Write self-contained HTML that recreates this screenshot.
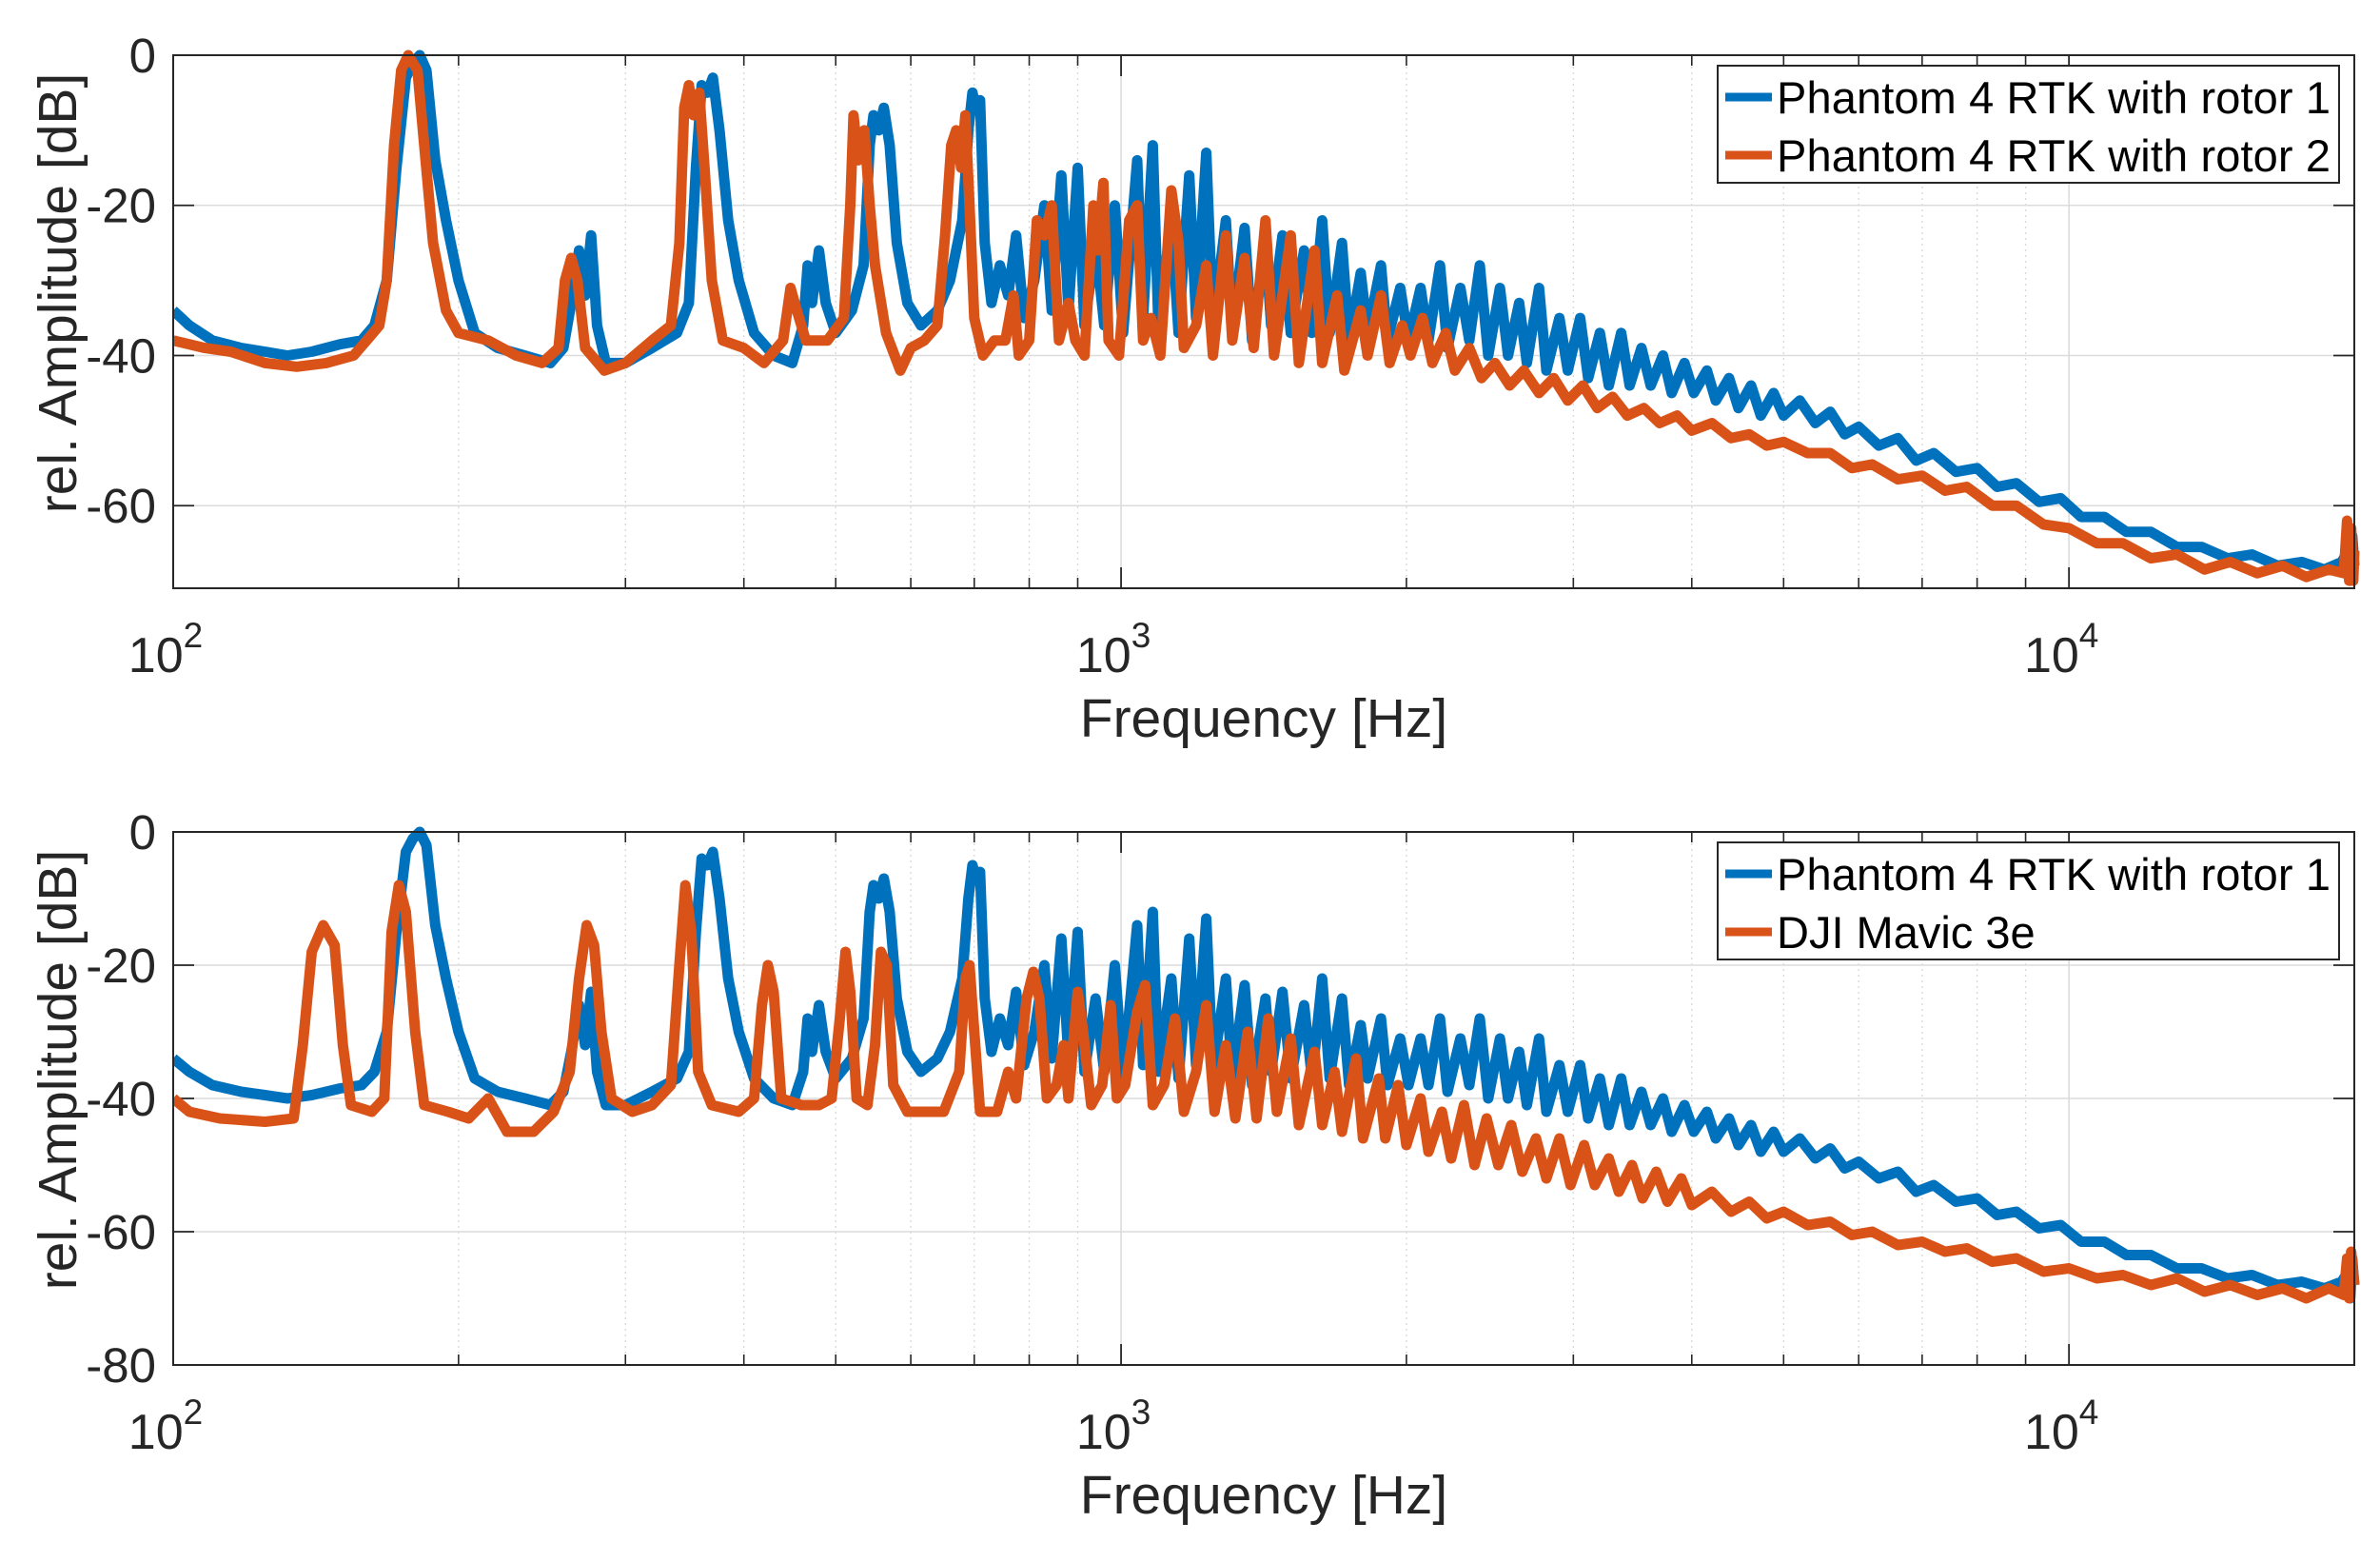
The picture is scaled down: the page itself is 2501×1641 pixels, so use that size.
<!DOCTYPE html>
<html><head><meta charset="utf-8">
<style>
html,body{margin:0;padding:0;background:#fff;}
svg{display:block;font-family:"Liberation Sans",Arial,sans-serif;}
</style></head>
<body>
<svg id="fig" width="2501" height="1641" viewBox="0 0 2501 1641" xmlns="http://www.w3.org/2000/svg"></svg>
<script>
// ---- data ----
const xTickLabels = ["2","3","4"];          // exponents for 10^2, 10^3, 10^4
const xTickValues = [100, 1000, 10000];
const yTicksTop = [0, -20, -40, -60];
const yTicksBottom = [0, -20, -40, -60, -80];

const legendTop = ["Phantom 4 RTK with rotor 1", "Phantom 4 RTK with rotor 2"];
const legendBottom = ["Phantom 4 RTK with rotor 1", "DJI Mavic 3e"];

const freqR1 = [100,104,110,118,125,132,140,150,158,163,168,172,176,179,182,185,189,194,200,208,220,235,250,258,263,268,272,276,280,286,300,320,340,350,356,361,366,371,377,385,395,410,430,450,462,467,472,480,488,500,520,535,543,548,555,562,570,580,595,615,640,660,680,690,697,703,710,718,730,745,760,775,790,810,830,845,865,880,900,915,940,960,985,1005,1040,1055,1080,1095,1130,1150,1180,1200,1230,1250,1290,1310,1350,1375,1420,1440,1480,1510,1560,1590,1630,1660,1710,1740,1790,1820,1880,1910,1970,2010,2070,2110,2170,2210,2280,2330,2390,2440,2510,2560,2630,2680,2760,2810,2900,2960,3050,3110,3200,3270,3370,3440,3540,3620,3730,3810,3930,4020,4150,4240,4380,4480,4620,4730,4880,5000,5200,5400,5600,5800,6000,6300,6600,6900,7200,7600,8000,8400,8800,9300,9800,10300,10900,11500,12200,13000,13800,14700,15600,16600,17600,18600,19400,19700,19800,19900,20000];
const ampR1 = [-34,-36,-38,-39,-39.5,-40,-39.5,-38.5,-38,-36,-30,-15,-3,-1,0,-2,-14,-22,-30,-37,-39,-40,-41,-39,-33,-26,-32,-24,-36,-41,-41,-39,-37,-33,-15,-4,-5,-3,-10,-22,-30,-37,-40,-41,-36,-28,-33,-26,-33,-37,-34,-28,-12,-8,-10,-7,-12,-25,-33,-36,-34,-30,-22,-10,-5,-7,-6,-25,-33,-28,-32,-24,-35,-30,-20,-34,-16,-34,-15,-36,-25,-36,-20,-37,-14,-35,-12,-36,-22,-37,-16,-35,-13,-36,-22,-37,-23,-38,-25,-36,-24,-37,-26,-37,-22,-37,-25,-38,-29,-37,-28,-38,-31,-38,-31,-38,-28,-39,-31,-38,-28,-40,-31,-40,-33,-41,-31,-42,-35,-42,-35,-43,-37,-44,-37,-44,-39,-44,-40,-45,-41,-45,-42,-46,-43,-47,-44,-48,-45,-48,-46,-49,-47.5,-50.5,-49.5,-52,-51,-54,-53,-55.5,-55,-57.5,-57,-59.5,-59,-61.5,-61.5,-63.5,-63.5,-65.5,-65.5,-67,-66.5,-68,-67.5,-68.5,-67.5,-66,-70,-64,-68];

const freqR2 = [100,108,115,125,135,145,155,160,165,168,171,174,177,181,184,188,194,200,215,230,245,255,259,263,267,272,285,300,320,335,342,346,350,354,359,364,370,380,400,420,440,448,455,465,490,510,518,522,528,536,543,550,565,585,600,620,640,652,662,670,678,685,692,700,715,735,755,770,780,800,815,830,845,860,880,895,915,935,945,958,970,995,1020,1040,1055,1075,1100,1130,1150,1165,1200,1230,1250,1290,1310,1350,1380,1420,1450,1510,1540,1600,1630,1690,1720,1790,1820,1880,1920,1980,2020,2080,2130,2200,2250,2330,2400,2480,2570,2660,2760,2860,2960,3070,3180,3300,3420,3560,3700,3860,4000,4200,4400,4600,4800,5000,5300,5600,5900,6200,6600,7000,7400,7800,8300,8800,9400,10000,10700,11400,12200,13000,13900,14800,15800,16800,17800,18800,19500,19650,19750,19850,19950,20000];
const ampR2 = [-38,-39,-39.5,-41,-41.5,-41,-40,-38,-36,-30,-12,-2,0,-2,-12,-25,-34,-37,-38,-40,-41,-39,-30,-27,-30,-39,-42,-41,-38,-36,-25,-7,-4,-8,-5,-16,-30,-38,-39,-41,-38,-31,-34,-38,-38,-35,-20,-8,-14,-10,-20,-28,-37,-42,-39,-38,-36,-24,-12,-10,-15,-8,-20,-35,-40,-38,-38,-32,-40,-38,-22,-24,-20,-38,-33,-38,-40,-20,-26,-17,-38,-40,-22,-20,-38,-35,-40,-18,-25,-39,-36,-28,-40,-24,-38,-27,-39,-22,-40,-24,-41,-26,-41,-32,-42,-34,-40,-32,-41,-36,-40,-35,-41,-37,-42,-39,-43,-41,-44,-42,-45,-43,-46,-44,-47,-45.5,-48,-47,-49,-48,-50,-49,-51,-50.5,-52,-51.5,-53,-53,-55,-54.5,-56.5,-56,-58,-57.5,-60,-60,-62.5,-63,-65,-65,-67,-66.5,-68.5,-67.5,-69,-68,-69.5,-68.5,-69,-62,-70,-63,-70,-66];

const freqM3 = [100,104,112,125,134,137,140,144,148,151,154,162,167,170,173,176,180,184,195,205,215,225,240,252,262,268,273,278,283,290,305,320,335,342,347,352,358,370,395,410,418,424,430,438,460,480,495,505,512,518,526,540,550,558,566,575,595,620,650,675,685,692,700,710,740,760,775,795,808,820,835,855,870,880,900,912,930,955,975,990,1010,1040,1060,1080,1110,1140,1165,1200,1230,1255,1290,1320,1360,1390,1430,1460,1510,1540,1600,1630,1680,1710,1770,1800,1870,1900,1960,2000,2070,2110,2180,2230,2300,2360,2430,2500,2580,2650,2740,2810,2900,2980,3080,3160,3270,3350,3460,3550,3670,3770,3900,4000,4200,4400,4600,4800,5000,5300,5600,5900,6200,6600,7000,7400,7800,8300,8800,9400,10000,10700,11400,12200,13000,13900,14800,15800,16800,17800,18800,19500,19650,19750,19850,20000];
const ampM3 = [-40,-42,-43,-43.5,-43,-32,-18,-14,-17,-32,-41,-42,-40,-15,-8,-12,-30,-41,-42,-43,-40,-45,-45,-42,-36,-22,-14,-17,-30,-40,-42,-41,-38,-20,-8,-15,-36,-41,-42,-40,-26,-20,-24,-40,-41,-41,-40,-28,-18,-24,-40,-41,-32,-18,-20,-38,-42,-42,-42,-36,-22,-20,-30,-42,-42,-36,-40,-25,-21,-25,-40,-38,-32,-40,-24,-30,-41,-38,-26,-40,-38,-27,-23,-41,-38,-28,-42,-36,-26,-42,-32,-43,-30,-43,-28,-42,-31,-44,-33,-44,-36,-45,-34,-46,-37,-46,-38,-47,-40,-48,-42,-49,-41,-50,-43,-50,-44,-51,-46,-52,-46,-53,-47,-53,-49,-54,-50,-55,-51,-55.5,-52,-56,-54,-57,-55.5,-58,-57,-59,-58.5,-60.5,-60,-62,-61.5,-63,-62.5,-64.5,-64,-66,-65.5,-67,-66.5,-68,-67,-69,-68,-69.5,-68.5,-70,-68.5,-69.5,-64,-70,-63,-68];

// ---- layout ----
const NS = "http://www.w3.org/2000/svg";
const svg = document.getElementById('fig');
const X0 = 182, X1 = 2474, FMIN = 100, FMAX = 20000;
const BLUE = "#0072BD", ORANGE = "#D95319", AX = "#262626";
function xs(f){ return X0 + (Math.log10(f) - Math.log10(FMIN)) / (Math.log10(FMAX) - Math.log10(FMIN)) * (X1 - X0); }
function mk(tag, attrs, parent){ const e = document.createElementNS(NS, tag); for (const k in attrs) e.setAttribute(k, attrs[k]); (parent||svg).appendChild(e); return e; }

function drawPanel(pid, top, bottom, ymin, yTicks, series, legend, legY){
  const g = mk('g', {});
  
  
  const ys = v => top + (0 - v) / (0 - ymin) * (bottom - top);
  for (let d = 2; d <= 4; d++) {
    for (let m = 1; m <= 9; m++) {
      const f = m * Math.pow(10, d);
      if (f < FMIN || f > FMAX) continue;
      const x = xs(f);
      if (m === 1) {
        mk('line', {x1:x, y1:top, x2:x, y2:bottom, stroke:'#dcdcdc', 'stroke-width':1.6}, g);
        mk('line', {x1:x, y1:bottom, x2:x, y2:bottom-22, stroke:AX, 'stroke-width':1.8}, g);
        mk('line', {x1:x, y1:top, x2:x, y2:top+22, stroke:AX, 'stroke-width':1.8}, g);
      } else {
        mk('line', {x1:x, y1:top, x2:x, y2:bottom, stroke:'#d8d8d8', 'stroke-width':1.3, 'stroke-dasharray':'2,4'}, g);
        mk('line', {x1:x, y1:bottom, x2:x, y2:bottom-11, stroke:AX, 'stroke-width':1.6}, g);
        mk('line', {x1:x, y1:top, x2:x, y2:top+11, stroke:AX, 'stroke-width':1.6}, g);
      }
    }
  }
  yTicks.forEach(v => {
    const y = ys(v);
    mk('line', {x1:X0, y1:y, x2:X1, y2:y, stroke:'#dcdcdc', 'stroke-width':1.6}, g);
    mk('line', {x1:X0, y1:y, x2:X0+22, y2:y, stroke:AX, 'stroke-width':1.8}, g);
    mk('line', {x1:X1, y1:y, x2:X1-22, y2:y, stroke:AX, 'stroke-width':1.8}, g);
    const t = mk('text', {x:164, y:y+18, 'text-anchor':'end', 'font-size':51, fill:AX}, g);
    
    
    t.textContent = String(v);
  });
  const clipId = pid + '-clip';
  const cp = mk('clipPath', {id:clipId}, g);
  mk('rect', {x:X0, y:top-8, width:X1-X0+8, height:bottom-top+8}, cp);
  series.forEach((s, i) => {
    let d = '';
    for (let k = 0; k < s.f.length; k++) d += (k ? 'L' : 'M') + xs(s.f[k]).toFixed(1) + ',' + ys(s.a[k]).toFixed(1);
    const p = mk('path', {d:d, fill:'none', stroke:s.c, 'stroke-width':11, 'stroke-linejoin':'round', 'clip-path':'url(#'+clipId+')'}, g);
    
    
  });
  mk('rect', {x:X0, y:top, width:X1-X0, height:bottom-top, fill:'none', stroke:AX, 'stroke-width':2}, g);
  xTickValues.forEach((v, i) => {
    const x = xs(v);
    const t = mk('text', {x:x-8, y:bottom+88, 'text-anchor':'middle', 'font-size':52, fill:AX}, g);
    
    
    t.textContent = '10';
    const s = mk('tspan', {dy:-26, 'font-size':37}, t);
    s.textContent = xTickLabels[i];
  });
  const xl = mk('text', {x:1328, y:bottom+156, 'text-anchor':'middle', 'font-size':57, fill:AX}, g);
  
  
  xl.textContent = 'Frequency [Hz]';
  const yc = (top + bottom) / 2 - 30;
  const yl = mk('text', {x:0, y:0, transform:'translate(80,'+yc+') rotate(-90)', 'text-anchor':'middle', 'font-size':57, fill:AX}, g);
  
  
  yl.textContent = 'rel. Amplitude [dB]';
  const lg = mk('g', {}, g);
  
  
  mk('rect', {x:1805, y:legY, width:653, height:123, fill:'#fff', stroke:AX, 'stroke-width':2}, lg);
  legend.forEach((lab, i) => {
    const ry = legY + 33 + i * 61;
    const e = mk('g', {}, lg);
    
    
    mk('line', {x1:1813, y1:ry, x2:1862, y2:ry, stroke:series[i].c, 'stroke-width':9}, e);
    const t = mk('text', {x:1867, y:ry+17, 'font-size':47, fill:'#000'}, e);
    t.textContent = lab;
    if (lab.length > 20) t.setAttribute('textLength', 582);
  });
}

drawPanel('top-panel', 58, 618, -71, yTicksTop,
  [{f:freqR1, a:ampR1, c:BLUE}, {f:freqR2, a:ampR2, c:ORANGE}], legendTop, 69);
drawPanel('bottom-panel', 874, 1434, -80, yTicksBottom,
  [{f:freqR1, a:ampR1, c:BLUE}, {f:freqM3, a:ampM3, c:ORANGE}], legendBottom, 885);
</script>
</body></html>
